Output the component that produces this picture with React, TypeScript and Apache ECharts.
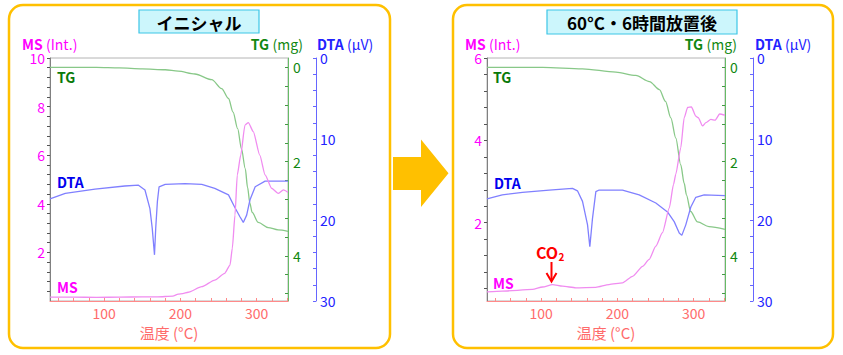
import React, { useEffect, useRef } from "react";
import * as echarts from "echarts";

const FONT = '"Noto Sans CJK JP", "Noto Sans", sans-serif';

// ---- axis labels ----
const xLabelValues = [100, 200, 300];
const xTickValues = [40, 60, 80, 100, 120, 140, 160, 180, 200, 220, 240, 260, 280, 300, 320, 340];
const msLeftLabels = [2, 4, 6, 8, 10];
const msRightLabels = [2, 4, 6];
const tgLabels = [0, 2, 4];
const dtaLabels = [0, 10, 20, 30];
const panelTitles = ["イニシャル", "60°C・6時間放置後"];

// ---- left panel (initial) ----
const leftTgT = [29, 60, 90, 120, 150, 180, 197, 219, 241, 254, 263, 269, 275, 280, 285, 288, 291, 294, 302, 315, 328, 341];
const leftTgV = [0, 0, 0, 0.01, 0.03, 0.05, 0.08, 0.14, 0.26, 0.45, 0.66, 0.95, 1.3, 1.73, 2.15, 2.55, 2.88, 3.08, 3.29, 3.4, 3.45, 3.48];

const leftDtaT = [29, 49, 88, 127, 145, 153.5, 160, 163, 166, 167.6, 169.8, 172, 180, 206, 228, 245, 263, 271, 278, 282.4, 286.8, 291.2, 298, 311, 341];
const leftDtaV = [17.4, 16.7, 16.2, 15.8, 15.7, 16.3, 18.6, 21.0, 24.3, 21.0, 17.7, 15.9, 15.6, 15.5, 15.6, 16.1, 16.9, 18.4, 19.6, 20.3, 19.4, 17.5, 15.9, 15.2, 15.2];

const leftMsT = [29, 60, 90, 120, 150, 170, 190, 197, 203, 210, 228, 245, 258, 265, 268, 271.5, 274.5, 279, 284.6, 289, 295.5, 304, 311, 319.5, 328, 335, 341];
const leftMsV = [0.16, 0.16, 0.15, 0.16, 0.17, 0.17, 0.2, 0.28, 0.3, 0.36, 0.59, 0.86, 1.14, 1.48, 2.17, 3.54, 5.19, 6.0, 7.24, 7.34, 6.97, 6.0, 5.19, 4.64, 4.43, 4.57, 4.47];

// ---- right panel (after 6h at 60°C) ----
const rightTgT = [29, 60, 102, 154, 198, 224, 242, 255, 263, 270, 276.5, 283, 287.5, 290.5, 296, 305, 320, 341];
const rightTgV = [0, 0, 0, 0.03, 0.1, 0.17, 0.3, 0.47, 0.72, 1.07, 1.5, 2.07, 2.46, 2.71, 3.06, 3.28, 3.38, 3.44];

const rightDtaT = [29, 49, 75.5, 110.5, 141, 147.6, 154.2, 160.8, 163.8, 167.3, 171.7, 176, 206.6, 228.5, 250.3, 265.6, 274.4, 281, 284.4, 289.6, 296.2, 302.7, 313.7, 341];
const rightDtaV = [17.4, 16.9, 16.6, 16.3, 16.1, 16.4, 17.7, 20.6, 23.3, 19.8, 16.5, 16.3, 16.3, 16.9, 17.9, 19.0, 20.2, 21.6, 21.9, 20.6, 18.4, 17.2, 16.9, 17.0];

const rightMsT = [29, 49, 88.6, 101.8, 114.9, 128, 145.5, 171.7, 189, 206.6, 219.8, 233, 241.6, 250.3, 259, 268, 273.5, 276.5, 283, 287.5, 292, 297, 302.7, 306, 311.5, 316, 322.5, 328, 334, 341];
const rightMsV = [0.32, 0.34, 0.38, 0.44, 0.5, 0.46, 0.42, 0.43, 0.5, 0.54, 0.7, 0.94, 1.11, 1.43, 1.76, 2.36, 2.93, 3.18, 3.82, 4.55, 4.8, 4.81, 4.59, 4.55, 4.35, 4.43, 4.51, 4.49, 4.64, 4.61];

const zip = (t: number[], v: number[]) => t.map((x, i) => [x, v[i]]);
const steps = (from: number, to: number, step: number) => {
  const out: number[] = [];
  for (let k = 0; from + k * step <= to + 1e-9; k++) out.push(Math.round((from + k * step) * 100) / 100);
  return out;
};

const MS_COLOR = "#FF00FF";
const TG_COLOR = "#118811";
const DTA_COLOR = "#2222FF";
const X_COLOR = "#FF6B6B";

function buildOption() {
  const grids = [
    { left: 50, top: 58, width: 238, height: 243 },
    { left: 487, top: 58, width: 238, height: 243 },
  ].map((g) => ({ ...g, show: true, borderColor: "#B4B4B4", borderWidth: 1, backgroundColor: "transparent" }));

  const xAxes = [0, 1].map((i) => ({
    type: "value",
    gridIndex: i,
    min: 29,
    max: 341,
    axisLine: { show: true, onZero: false, lineStyle: { color: "#FF8A8A", width: 1 } },
    axisTick: { show: true, inside: true, length: 3, customValues: xTickValues, lineStyle: { color: "#FF8A8A" } },
    axisLabel: { customValues: xLabelValues, color: X_COLOR, fontSize: 14, fontFamily: FONT, margin: 5 },
    splitLine: { show: false },
    name: "温度 (°C)",
    nameLocation: "middle",
    nameGap: 21,
    nameTextStyle: { color: X_COLOR, fontSize: 15, fontFamily: FONT },
  }));

  const msAxis = (gi: number, min: number, max: number, labels: number[]) => ({
    type: "value",
    gridIndex: gi,
    position: "left",
    min,
    max,
    axisLine: { show: true, onZero: false, lineStyle: { color: "#808080", width: 1 } },
    axisTick: { show: true, length: 3, customValues: steps(0.4, max, 0.4).filter((v) => v >= min), lineStyle: { color: "#555" } },
    axisLabel: { customValues: labels, color: MS_COLOR, fontSize: 14, fontFamily: FONT, margin: 5, lineHeight: 12 },
    splitLine: { show: false },
  });
  const tgAxis = (gi: number) => ({
    type: "value",
    gridIndex: gi,
    position: "right",
    inverse: true,
    min: -0.2,
    max: 4.96,
    axisLine: { show: true, onZero: false, lineStyle: { color: "#66BB66", width: 1 } },
    axisTick: { show: true, inside: true, length: 3, customValues: steps(0, 4.8, 0.4), lineStyle: { color: "#449944" } },
    axisLabel: { customValues: tgLabels, color: TG_COLOR, fontSize: 14, fontFamily: FONT, margin: 5 },
    splitLine: { show: false },
  });
  const dtaAxis = (gi: number) => ({
    type: "value",
    gridIndex: gi,
    position: "right",
    offset: 28,
    inverse: true,
    min: 0,
    max: 30,
    axisLine: { show: true, onZero: false, lineStyle: { color: "#6666FF", width: 1 } },
    axisTick: { show: true, inside: true, length: 3, customValues: steps(0, 30, 2), lineStyle: { color: "#6666FF" } },
    axisLabel: { customValues: dtaLabels, color: DTA_COLOR, fontSize: 14, fontFamily: FONT, margin: 4, lineHeight: 12 },
    splitLine: { show: false },
  });

  const yAxes = [
    msAxis(0, 0, 10, msLeftLabels),
    tgAxis(0),
    dtaAxis(0),
    msAxis(1, 0.1, 6, msRightLabels),
    tgAxis(1),
    dtaAxis(1),
  ];

  const line = (xi: number, yi: number, data: number[][], color: string, smooth: number | boolean) => ({
    type: "line",
    xAxisIndex: xi,
    yAxisIndex: yi,
    data,
    showSymbol: false,
    smooth,
    smoothMonotone: "x",
    lineStyle: { color, width: 1.3 },
    itemStyle: { color },
    clip: true,
    silent: true,
  });

  const series = [
    line(0, 1, zip(leftTgT, leftTgV), "#88C888", 0.3),
    line(0, 2, zip(leftDtaT, leftDtaV), "#8080FF", false),
    line(0, 0, zip(leftMsT, leftMsV), "#F08CF0", 0.2),
    line(1, 4, zip(rightTgT, rightTgV), "#88C888", 0.3),
    line(1, 5, zip(rightDtaT, rightDtaV), "#8080FF", false),
    line(1, 3, zip(rightMsT, rightMsV), "#F08CF0", 0.2),
  ];

  const richTitle = (x: number, y: number, bold: string, rest: string, color: string, align: string) => ({
    type: "text",
    x,
    y,
    style: {
      text: `{b|${bold}} {n|${rest}}`,
      align,
      verticalAlign: "middle",
      fill: color,
      lineHeight: 12,
      rich: {
        b: { fontWeight: "bold", fontSize: 14, lineHeight: 12, fontFamily: FONT, fill: color },
        n: { fontWeight: "normal", fontSize: 14, lineHeight: 12, fontFamily: FONT, fill: color },
      },
    },
  });

  const inLabel = (x: number, y: number, text: string, color: string) => ({
    type: "text",
    x,
    y,
    style: { text, fill: color, fontSize: 14, fontWeight: "bold", fontFamily: FONT, verticalAlign: "middle", align: "left" },
  });

  const graphic: any[] = [
    // panels
    { type: "rect", shape: { x: 9, y: 5, width: 381, height: 343, r: 14 }, style: { fill: "none", stroke: "#FFC000", lineWidth: 2.5 } },
    { type: "rect", shape: { x: 453, y: 5, width: 380, height: 343, r: 14 }, style: { fill: "none", stroke: "#FFC000", lineWidth: 2.5 } },
    // title boxes
    { type: "rect", shape: { x: 139, y: 10, width: 120, height: 23 }, style: { fill: "#CCF6FC", stroke: "#3CC6E6", lineWidth: 1.2 } },
    { type: "text", x: 199, y: 22, style: { text: panelTitles[0], fill: "#000", fontSize: 17, fontWeight: "bold", fontFamily: FONT, align: "center", verticalAlign: "middle" } },
    { type: "rect", shape: { x: 547, y: 10, width: 190, height: 24 }, style: { fill: "#CCF6FC", stroke: "#3CC6E6", lineWidth: 1.2 } },
    { type: "text", x: 642, y: 22.5, style: { text: panelTitles[1], fill: "#000", fontSize: 17, fontWeight: "bold", fontFamily: FONT, align: "center", verticalAlign: "middle" } },
    // arrow between panels
    {
      type: "polygon",
      shape: { points: [[393, 157], [421, 157], [421, 139.5], [448.5, 173.3], [421, 207], [421, 190], [393, 190]] },
      style: { fill: "#FFC000" },
    },
    // axis titles
    richTitle(22, 44, "MS", "(Int.)", MS_COLOR, "left"),
    richTitle(303, 44, "TG", "(mg)", TG_COLOR, "right"),
    richTitle(317, 44, "DTA", "(μV)", DTA_COLOR, "left"),
    richTitle(465, 44, "MS", "(Int.)", MS_COLOR, "left"),
    richTitle(737, 44, "TG", "(mg)", TG_COLOR, "right"),
    richTitle(755, 44, "DTA", "(μV)", DTA_COLOR, "left"),
    // in-plot labels
    inLabel(57, 77, "TG", "#0A7A0A"),
    inLabel(57, 182, "DTA", "#0000EE"),
    inLabel(57, 287, "MS", MS_COLOR),
    inLabel(493, 77, "TG", "#0A7A0A"),
    inLabel(494, 183, "DTA", "#0000EE"),
    inLabel(493, 283, "MS", MS_COLOR),
    // CO2 annotation
    { type: "text", x: 536, y: 252, style: { text: "CO", fill: "#FF0000", fontSize: 16, fontWeight: "bold", fontFamily: FONT, align: "left", verticalAlign: "middle" } },
    { type: "text", x: 558.5, y: 256.5, style: { text: "2", fill: "#FF0000", fontSize: 10, fontWeight: "bold", fontFamily: FONT, align: "left", verticalAlign: "middle" } },
    { type: "line", shape: { x1: 551.5, y1: 262, x2: 551.5, y2: 281 }, style: { stroke: "#FF0000", lineWidth: 2 } },
    { type: "polyline", shape: { points: [[546.5, 273], [551.5, 281.5], [556.5, 273]] }, style: { stroke: "#FF0000", lineWidth: 2, fill: "none" } },
  ];

  return {
    animation: false,
    backgroundColor: "#ffffff",
    textStyle: { fontFamily: FONT },
    grid: grids,
    xAxis: xAxes,
    yAxis: yAxes,
    series,
    graphic,
  };
}

export default function App() {
  const ref = useRef<HTMLDivElement>(null);
  useEffect(() => {
    if (!ref.current) return;
    const chart = echarts.init(ref.current, undefined, { renderer: "svg" });
    chart.setOption(buildOption() as any);
    return () => chart.dispose();
  }, []);
  return <div ref={ref} style={{ position: "absolute", left: 0, top: 0, width: 843, height: 355 }} />;
}
